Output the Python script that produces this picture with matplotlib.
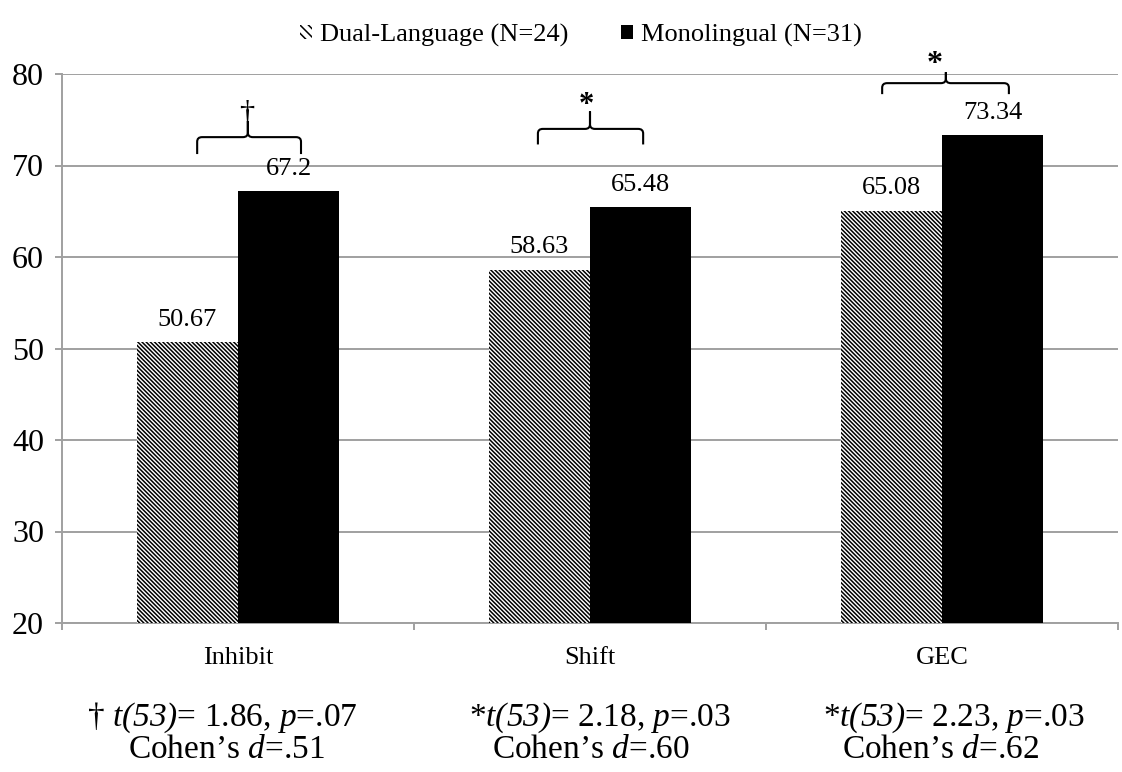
import matplotlib
matplotlib.use("Agg")
import matplotlib.pyplot as plt
from matplotlib.path import Path
from matplotlib.patches import PathPatch, Patch
import numpy as np

plt.rcParams['font.family'] = ['Liberation Serif', 'DejaVu Serif']
plt.rcParams['mathtext.fontset'] = 'custom'
plt.rcParams['mathtext.rm'] = 'Liberation Serif'
plt.rcParams['mathtext.it'] = 'Liberation Serif:italic'
plt.rcParams['mathtext.sf'] = 'Liberation Serif:italic'
plt.rcParams['hatch.linewidth'] = 1.1
plt.rcParams['hatch.color'] = 'black'

categories = ["Inhibit", "Shift", "GEC"]
dual_values = [50.67, 58.63, 65.08]
mono_values = [67.2, 65.48, 73.34]
series_names = ["Dual-Language (N=24)", "Monolingual (N=31)"]
sig_marks = ["\u2020", "*", "*"]
stats_line1 = [r"† $\mathsf{t(53)}$= 1.86, $\mathsf{p}$=.07",
               r"*$\mathsf{t(53)}$= 2.18, $\mathsf{p}$=.03",
               r"*$\mathsf{t(53)}$= 2.23, $\mathsf{p}$=.03"]
stats_line2 = [r"Cohen’s $\mathsf{d}$=.51",
               r"Cohen’s $\mathsf{d}$=.60",
               r"Cohen’s $\mathsf{d}$=.62"]
yticks = [20, 30, 40, 50, 60, 70, 80]

fig = plt.figure(figsize=(11.22, 7.72), dpi=100)
ax = fig.add_axes([62/1122, 1-623/772, (1118-62)/1122, (623-74)/772])

x = np.arange(len(categories))
w = 0.287
HATCH = '\\\\\\\\\\\\\\\\'
b1 = ax.bar(x - w/2, dual_values, w, facecolor='white', hatch=HATCH,
            linewidth=0, zorder=3)
b2 = ax.bar(x + w/2, mono_values, w, color='black', linewidth=0, zorder=3)
ax.bar_label(b1, fmt='%g', padding=8, fontsize=19)
ax.bar_label(b2, fmt='%g', padding=8, fontsize=19)

ax.set_xlim(-0.5, len(categories) - 0.5)
ax.set_ylim(20, 80)
ax.set_yticks(yticks)
ax.yaxis.grid(True, color='#a0a0a0', linewidth=1.4, zorder=0)
ax.set_axisbelow(True)
for s in ['top', 'right']:
    ax.spines[s].set_visible(False)
for s in ['left', 'bottom']:
    ax.spines[s].set_color('#a0a0a0')
    ax.spines[s].set_linewidth(1.4)

ax.set_xticks(x)
ax.set_xticklabels(categories)
ax.set_xticks(np.arange(-0.5, len(categories)), minor=True)
ax.tick_params(axis='x', which='major', length=0, pad=17, labelsize=19)
ax.tick_params(axis='x', which='minor', length=5, width=1.4, color='#a0a0a0')
ax.tick_params(axis='y', length=5, width=1.4, color='#a0a0a0', labelsize=23, pad=8)

# significance braces
def brace(ax, x0, x1, xc, yh, yb, ytop, rx=0.014, ry=0.5):
    verts = [(x0, yb), (x0, yh - ry), (x0, yh), (x0 + rx, yh),
             (xc - rx, yh), (xc, yh), (xc, yh + ry), (xc, ytop),
             (xc, yh + ry), (xc, yh), (xc + rx, yh),
             (x1 - rx, yh), (x1, yh), (x1, yh - ry), (x1, yb)]
    codes = [Path.MOVETO, Path.LINETO, Path.CURVE3, Path.CURVE3,
             Path.LINETO, Path.CURVE3, Path.CURVE3, Path.LINETO,
             Path.LINETO, Path.CURVE3, Path.CURVE3,
             Path.LINETO, Path.CURVE3, Path.CURVE3, Path.LINETO]
    p = PathPatch(Path(verts, codes), facecolor='none', edgecolor='black',
                  linewidth=1.5, clip_on=False, zorder=5)
    ax.add_patch(p)

brace_specs = [(-0.116, 0.179, 0.028, 73.1, 71.25, 74.85),
               (-0.148, 0.151, 0.0, 74.0, 72.3, 75.9),
               (-0.170, 0.190, 0.011, 79.0, 77.8, 80.2)]
mark_pos = [(0.026, 74.8, 22, 'normal'), (-0.011, 75.7, 22, 'bold'),
            (-0.020, 80.2, 23, 'bold')]
for i, (spec, mp, mk) in enumerate(zip(brace_specs, mark_pos, sig_marks)):
    x0, x1, xc, yh, yb, yt = spec
    brace(ax, i + x0, i + x1, i + xc, yh, yb, yt)
    ax.text(i + mp[0], mp[1], mk, ha='center', va='baseline', fontsize=mp[2],
            fontweight=mp[3], clip_on=False)

# legend
handles = [Patch(facecolor='white', hatch='\\\\\\\\', linewidth=0),
           Patch(facecolor='black', linewidth=0)]
fig.legend(handles, series_names, loc='upper center', bbox_to_anchor=(0.518, 1.0),
           ncol=2, frameon=False, fontsize=19, handlelength=0.45, handleheight=0.45,
           handletextpad=0.3, columnspacing=2.0)

# statistics text
line1_x = [222, 600, 954]
line2_x = [226, 591, 940]
for i in range(len(categories)):
    fig.text(line1_x[i] / 1122, 1 - 718 / 772, stats_line1[i], ha='center',
             va='center', fontsize=24)
    fig.text(line2_x[i] / 1122, 1 - 750 / 772, stats_line2[i], ha='center',
             va='center', fontsize=24)

fig.savefig("out.png", dpi=100)
